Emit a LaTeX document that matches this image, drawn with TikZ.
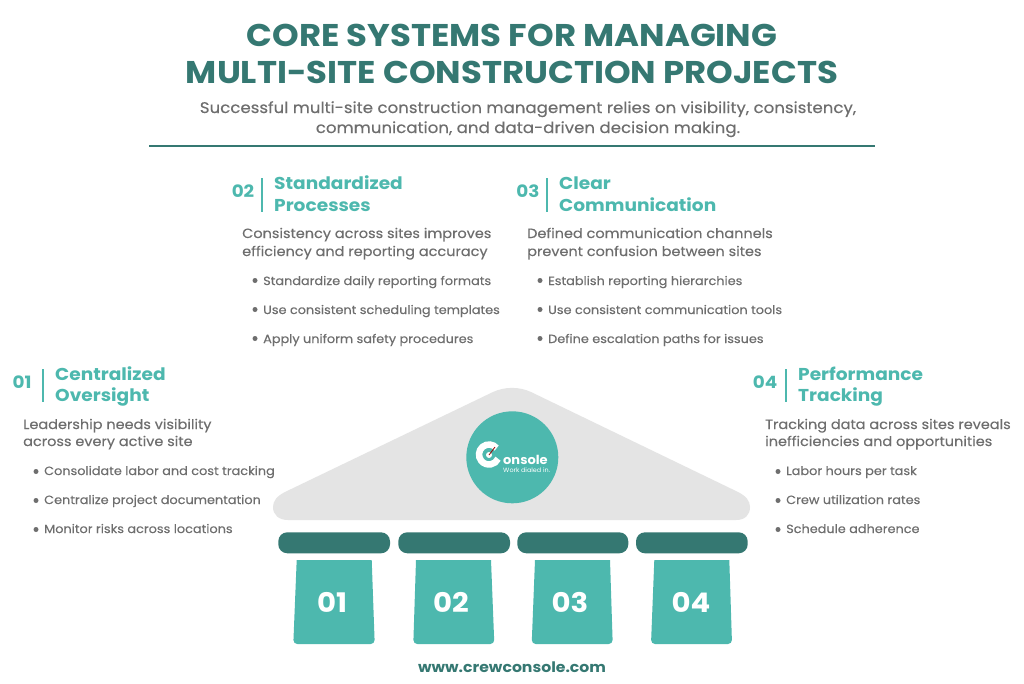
\documentclass[tikz,border=0pt]{standalone}
\usepackage{fontspec}
\setmainfont{Poppins}[FakeStretch=1.08,UprightFeatures={FakeBold=0.25}]
\newfontfamily\logofont{Poppins}[FakeStretch=1.04]
\definecolor{teal1}{HTML}{4DB8AE}
\definecolor{teal2}{HTML}{357872}
\definecolor{roofgray}{HTML}{E4E4E4}
\definecolor{txt}{HTML}{6E6E6E}
\tikzset{
 titletext/.style={text=teal2,font=\bfseries\fontsize{31.4}{31.4}\selectfont,anchor=base,inner sep=0},
 subtext/.style={text=txt,font=\fontsize{15.4}{15.4}\selectfont,anchor=base,inner sep=0},
 numtext/.style={text=teal1,font=\bfseries\fontsize{17}{17}\selectfont,anchor=base,inner sep=0},
 headtext/.style={text=teal1,font=\bfseries\fontsize{17.2}{17.2}\selectfont,anchor=base west,inner sep=0},
 introtext/.style={text=txt,font=\fontsize{13.4}{13.4}\selectfont,anchor=base west,inner sep=0},
 itemtext/.style={text=txt,font=\fontsize{11.9}{11.9}\selectfont,anchor=base west,inner sep=0},
 dotmark/.style={circle,fill=txt,inner sep=0,minimum size=5pt},
 beam/.style={fill=teal2,rounded corners=9pt},
 pillartext/.style={text=white,font=\bfseries\fontsize{27}{27}\selectfont,inner sep=0},
 divider/.style={teal1,line width=1.1pt},
}
\begin{document}
\begin{tikzpicture}[x=1pt,y=-1pt]
\useasboundingbox (0,0) rectangle (1024,683);
\fill[white] (0,0) rectangle (1024,683);
% title
\node[titletext] (t1) at (512,46) {CORE SYSTEMS FOR MANAGING};
\node[titletext] (t2) at (512,83) {MULTI-SITE CONSTRUCTION PROJECTS};
\node[subtext] (s1) at (528,113) {Successful multi-site construction management relies on visibility, consistency,};
\node[subtext] (s2) at (528,133) {communication, and data-driven decision making.};
\draw[teal2,line width=2.6pt] (149,146) -- (875,146);
% block 02
\node[numtext] (n2) at (243,197) {02};
\draw[divider] (262,178) -- (262,212);
\node[headtext] (h2a) at (274,189) {Standardized};
\node[headtext] (h2b) at (274,211) {Processes};
\node[introtext] (i2a) at (242,238) {Consistency across sites improves};
\node[introtext] (i2b) at (242,256) {efficiency and reporting accuracy};
\node[dotmark] (d2a) at (255,280.5) {};
\node[dotmark] (d2b) at (255,309.5) {};
\node[dotmark] (d2c) at (255,338.5) {};
\node[itemtext] (b2a) at (263,285) {Standardize daily reporting formats};
\node[itemtext] (b2b) at (263,314) {Use consistent scheduling templates};
\node[itemtext] (b2c) at (263,343) {Apply uniform safety procedures};
% block 03
\node[numtext] (n3) at (528,197) {03};
\draw[divider] (547,178) -- (547,212);
\node[headtext] (h3a) at (559,189) {Clear};
\node[headtext] (h3b) at (559,211) {Communication};
\node[introtext] (i3a) at (527,238) {Defined communication channels};
\node[introtext] (i3b) at (527,256) {prevent confusion between sites};
\node[dotmark] (d3a) at (540,280.5) {};
\node[dotmark] (d3b) at (540,309.5) {};
\node[dotmark] (d3c) at (540,338.5) {};
\node[itemtext] (b3a) at (548,285) {Establish reporting hierarchies};
\node[itemtext] (b3b) at (548,314) {Use consistent communication tools};
\node[itemtext] (b3c) at (548,343) {Define escalation paths for issues};
% block 01
\node[numtext] (n1) at (22,388) {01};
\draw[divider] (43,369) -- (43,402);
\node[headtext] (h1a) at (55,380) {Centralized};
\node[headtext] (h1b) at (55,401) {Oversight};
\node[introtext] (i1a) at (23,429) {Leadership needs visibility};
\node[introtext] (i1b) at (23,446) {across every active site};
\node[dotmark] (d1a) at (36,471.5) {};
\node[dotmark] (d1b) at (36,500.5) {};
\node[dotmark] (d1c) at (36,529.5) {};
\node[itemtext] (b1a) at (44,475) {Consolidate labor and cost tracking};
\node[itemtext] (b1b) at (44,504) {Centralize project documentation};
\node[itemtext] (b1c) at (44,533) {Monitor risks across locations};
% block 04
\node[numtext] (n4) at (765,388) {04};
\draw[divider] (786,369) -- (786,402);
\node[headtext] (h4a) at (798,380) {Performance};
\node[headtext] (h4b) at (798,401) {Tracking};
\node[introtext] (i4a) at (765,429) {Tracking data across sites reveals};
\node[introtext] (i4b) at (765,446) {inefficiencies and opportunities};
\node[dotmark] (d4a) at (778,471.5) {};
\node[dotmark] (d4b) at (778,500.5) {};
\node[dotmark] (d4c) at (778,529.5) {};
\node[itemtext] (b4a) at (786,475) {Labor hours per task};
\node[itemtext] (b4b) at (786,504) {Crew utilization rates};
\node[itemtext] (b4c) at (786,533) {Schedule adherence};
% roof
\fill[roofgray] (285,492) -- (493,392) .. controls (505,386.5) and (519,386.5) .. (531,392)
 -- (738,492) .. controls (746,496) and (750,501) .. (750,507)
 .. controls (750,515) and (745,520) .. (736,520) -- (288,520)
 .. controls (279,520) and (273,515) .. (273,507) .. controls (273,501) and (277,496) .. (285,492) -- cycle;
\node[circle,fill=teal1,minimum size=92pt,inner sep=0] (logo) at (512.3,457.3) {};
% logo mark
\draw[white,line width=6.5pt] (496.66,448.07) arc (-40:-335:10);
\fill[white] (489,455) circle (3);
\draw[red!60!black,line width=0.8pt] (489,455) -- (495,447);
\node[text=white,font=\logofont\bfseries\fontsize{12.5}{12.5}\selectfont,anchor=base west,inner sep=0] (logoa) at (503,464.5) {onsole};
\node[text=white,font=\logofont\fontsize{6.2}{6.2}\selectfont,anchor=base west,inner sep=0] (logob) at (503,472) {Work dialed in.};
% beams
\fill[beam] (278.3,532.3) rectangle (390,553.3);
\fill[beam] (398.3,532.3) rectangle (510,553.3);
\fill[beam] (517.3,532.3) rectangle (628.3,553.3);
\fill[beam] (636,532.3) rectangle (747.7,553.3);
% pillars
\fill[teal1] (296.7,560) -- (371.7,560) [rounded corners=4pt] -- (374.7,644) -- (293.3,644) [sharp corners] -- cycle;
\fill[teal1] (416,560) -- (491,560) [rounded corners=4pt] -- (494.3,644) -- (413.3,644) [sharp corners] -- cycle;
\fill[teal1] (535,560) -- (610,560) [rounded corners=4pt] -- (612.7,644) -- (531.7,644) [sharp corners] -- cycle;
\fill[teal1] (654.3,560) -- (729.3,560) [rounded corners=4pt] -- (732,644) -- (651,644) [sharp corners] -- cycle;
\node[pillartext] (p1) at (332,602) {01};
\node[pillartext] (p2) at (451,602) {02};
\node[pillartext] (p3) at (570,602) {03};
\node[pillartext] (p4) at (691,602) {04};
\node[text=teal2,font=\bfseries\fontsize{14.5}{14.5}\selectfont,anchor=base,inner sep=0] (web) at (512,672) {www.crewconsole.com};
\end{tikzpicture}
\end{document}
